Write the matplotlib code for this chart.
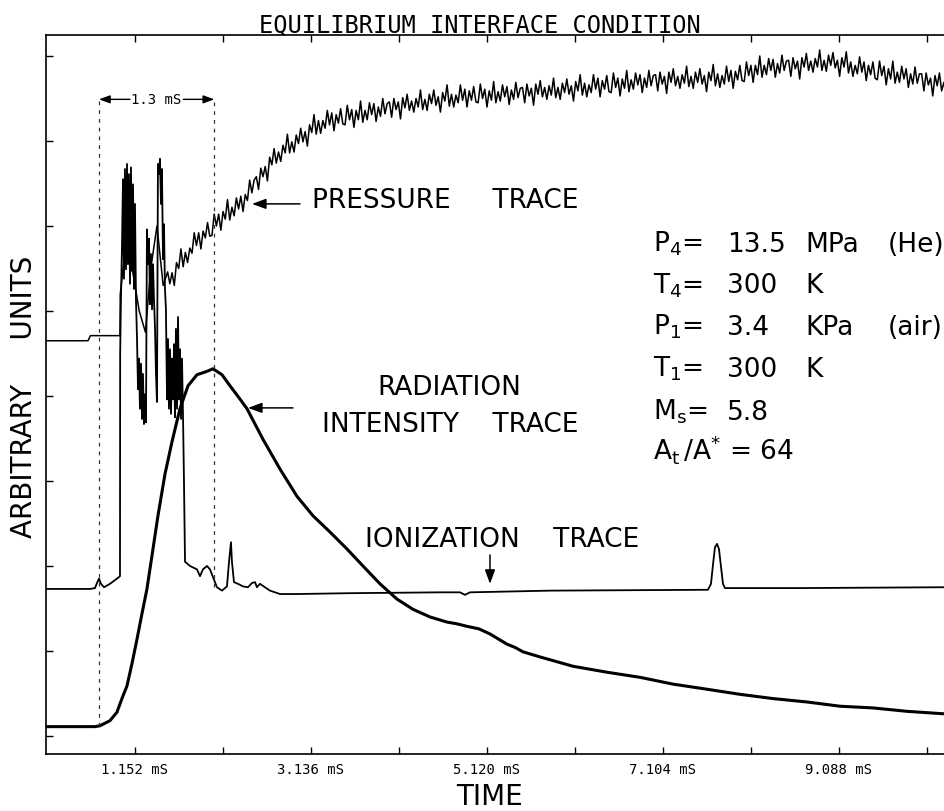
import numpy as np
import matplotlib.pyplot as plt

plt.rcParams['font.family'] = 'DejaVu Sans'
plt.rcParams['mathtext.fontset'] = 'dejavusans'

# time axis (mS)
tick_major = [1.152, 3.136, 5.120, 7.104, 9.088]
tick_minor = [2.144, 4.128, 6.112, 8.096, 10.080]
tick_labels = ["1.152 mS", "3.136 mS", "5.120 mS", "7.104 mS", "9.088 mS"]
y_ticks = [0, 10, 20, 30, 40, 50, 60, 70, 80]

# test time window marked on the record
window_start = 0.746
window_len = 1.3

# radiation intensity trace
rad_t = [0.15, 0.45, 0.70, 0.757, 0.870, 0.949, 1.005, 1.062, 1.118, 1.175,
         1.231, 1.287, 1.355, 1.411, 1.490, 1.569, 1.659, 1.750, 1.851, 1.964,
         2.031, 2.133, 2.223, 2.324, 2.415, 2.505, 2.595, 2.787, 2.978, 3.159,
         3.350, 3.542, 3.722, 3.914, 4.106, 4.286, 4.478, 4.669, 4.780, 4.895,
         5.030, 5.154, 5.250, 5.346, 5.440, 5.526, 5.718, 6.090, 6.473, 6.845,
         7.217, 7.600, 7.972, 8.344, 8.728, 9.100, 9.472, 9.855, 10.283, 10.60]
rad_y = [1.1, 1.1, 1.1, 1.2, 1.8, 2.8, 4.4, 5.9, 8.5, 11.4,
         14.4, 17.3, 22.0, 25.9, 30.8, 34.6, 38.5, 41.2, 42.5, 42.9,
         43.2, 42.5, 41.2, 39.8, 38.5, 36.7, 34.9, 31.4, 28.2, 25.9,
         24.0, 22.0, 20.0, 17.9, 16.1, 14.9, 14.0, 13.4, 13.2, 12.9,
         12.6, 12.0, 11.4, 10.8, 10.4, 9.9, 9.3, 8.2, 7.5, 6.9,
         6.1, 5.5, 4.9, 4.4, 4.0, 3.5, 3.3, 2.9, 2.6, 2.4]

# ionization probe trace
ion_t = [0.15, 0.645, 0.701, 0.724, 0.746, 0.769, 0.803, 0.870, 0.960, 0.983, 0.985,
         0.994, 1.005, 1.017, 1.028, 1.039, 1.051, 1.062, 1.073, 1.084, 1.096,
         1.107, 1.118, 1.130, 1.141, 1.152, 1.163, 1.175, 1.186, 1.197, 1.208,
         1.220, 1.231, 1.242, 1.253, 1.265, 1.276, 1.287, 1.298, 1.310, 1.321,
         1.332, 1.344, 1.355, 1.366, 1.378, 1.389, 1.400, 1.411, 1.423, 1.434,
         1.445, 1.456, 1.468, 1.479, 1.490, 1.501, 1.513, 1.524, 1.535, 1.547,
         1.558, 1.569, 1.580, 1.592, 1.603, 1.614, 1.626, 1.637, 1.648, 1.659,
         1.671, 1.682, 1.693, 1.704, 1.716,
         1.750, 1.772, 1.851, 1.885, 1.918, 1.964, 1.998, 2.031, 2.076, 2.133,
         2.189, 2.212, 2.234, 2.245, 2.268, 2.313, 2.370, 2.426, 2.471, 2.505,
         2.527, 2.561, 2.617, 2.674, 2.787, 2.978, 3.576, 4.590, 4.816, 4.872,
         4.929, 5.830, 7.611, 7.645, 7.668, 7.690, 7.713, 7.735, 7.758, 7.780,
         7.803, 8.649, 10.283, 10.60]
ion_y = [17.3, 17.3, 17.4, 18.0, 18.5, 17.9, 17.5, 17.9, 18.6, 18.8, 45.0,
         51.4, 57.3, 65.5, 53.8, 66.7, 54.9, 67.3, 55.5, 66.1, 53.2,
         66.9, 54.7, 64.9, 52.6, 62.6, 51.4, 46.7, 40.8, 44.4, 38.5,
         43.8, 37.3, 42.6, 36.7, 40.2, 36.9, 59.6, 55.5, 58.5, 50.8,
         56.7, 50.2, 55.5, 51.4, 47.9, 42.6, 39.3, 67.3, 66.1, 67.9,
         62.6, 66.7, 56.1, 60.2, 52.6, 50.2, 39.6, 46.7, 38.5, 45.5,
         37.9, 44.4, 39.6, 46.1, 37.5, 47.9, 38.5, 49.3, 39.6, 45.5,
         37.3, 44.4, 37.9, 30.2, 20.5,
         20.2, 20.0, 19.6, 18.8, 19.6, 20.0, 19.6, 18.7, 17.5, 17.1,
         17.6, 20.5, 22.8, 20.5, 18.1, 17.9, 17.6, 17.5, 18.0, 18.1,
         17.5, 17.9, 17.5, 17.1, 16.7, 16.7, 16.8, 16.9, 16.9, 16.6,
         16.9, 17.1, 17.2, 17.9, 20.2, 22.2, 22.6, 22.0, 19.9, 17.9,
         17.4, 17.4, 17.5, 17.5]

# pressure trace: baseline and ringing before the rise
p_early_t = [0.15, 0.622, 0.650, 0.983, 0.986, 1.05, 1.12, 1.20, 1.27, 1.33, 1.40, 1.47]
p_early_y = [46.5, 46.5, 47.1, 47.1, 52.0, 58.0, 55.0, 50.0, 47.5, 55.0, 60.0, 53.0]

# pressure trace after the rise, digitized every 0.025 mS from 1.52 mS
P_T0 = 1.52
P_DT = 0.025
p_samples = [
    54.6, 53.2, 54.5, 53.0, 55.7, 55.0, 57.3, 55.2, 56.9, 55.7, 57.4, 56.8, 59.2, 57.7, 59.2, 57.3, 59.4, 58.6, 60.4, 58.8,
    58.9, 61.4, 60.0, 61.4, 59.5, 61.7, 60.8, 63.1, 60.7, 62.2, 61.2, 63.3, 62.0, 63.5, 61.7, 63.7, 63.0, 65.4, 63.9, 65.4,
    65.8, 64.3, 66.8, 65.8, 67.0, 65.3, 68.1, 67.2, 69.1, 67.4, 68.7, 67.6, 69.5, 68.6, 70.8, 68.6, 69.9, 68.7, 70.7, 69.7,
    71.5, 69.9, 71.1, 69.4, 71.9, 71.0, 73.1, 70.8, 72.4, 70.9, 72.4, 71.5, 73.6, 71.9, 73.3, 71.2, 73.1, 72.1, 73.8, 72.0,
    71.9, 74.2, 72.5, 73.7, 71.6, 73.6, 72.5, 74.7, 72.2, 73.6, 72.5, 74.5, 73.1, 74.4, 72.3, 74.0, 72.9, 75.0, 73.2, 74.4,
    74.6, 72.8, 75.0, 73.7, 74.6, 72.6, 75.1, 73.9, 75.5, 73.6, 74.7, 73.4, 75.0, 74.0, 76.0, 73.7, 74.9, 73.6, 75.5, 74.4,
    76.0, 74.2, 75.2, 73.4, 75.7, 74.7, 76.6, 74.1, 75.5, 74.0, 75.4, 74.5, 76.6, 74.8, 76.1, 74.0, 75.9, 74.8, 76.4, 74.6,
    74.5, 76.7, 75.0, 76.1, 74.0, 75.9, 74.8, 77.0, 74.5, 75.8, 74.7, 76.6, 75.2, 76.4, 74.3, 76.0, 74.9, 76.9, 75.1, 76.2,
    76.3, 74.5, 76.7, 75.3, 76.2, 74.2, 76.7, 75.5, 77.1, 75.2, 76.3, 74.9, 76.5, 75.4, 77.4, 75.1, 76.3, 74.9, 76.8, 75.7,
    77.3, 75.5, 76.5, 74.7, 77.0, 75.9, 77.8, 75.4, 76.8, 75.2, 76.6, 75.7, 77.8, 76.1, 77.4, 75.2, 77.1, 76.1, 77.7, 75.8,
    75.7, 78.0, 76.3, 77.4, 75.3, 77.3, 76.2, 78.3, 75.8, 77.2, 76.1, 78.0, 76.6, 77.8, 75.7, 77.4, 76.3, 78.3, 76.5, 77.7,
    77.8, 75.9, 78.1, 76.7, 77.6, 75.6, 78.1, 76.9, 78.5, 76.5, 77.6, 76.2, 77.8, 76.8, 78.8, 76.4, 77.6, 76.2, 78.1, 76.9,
    78.5, 76.7, 77.7, 75.8, 78.1, 77.1, 79.0, 76.5, 77.9, 76.3, 77.7, 76.7, 78.8, 77.0, 78.3, 76.2, 78.2, 77.2, 78.9, 77.1,
    77.0, 79.3, 77.7, 78.9, 76.9, 78.9, 77.8, 80.0, 77.5, 78.9, 77.8, 79.7, 78.3, 79.6, 77.5, 79.1, 78.0, 80.1, 78.3, 79.4,
    79.5, 77.6, 79.8, 78.5, 79.4, 77.3, 79.8, 78.7, 80.3, 78.3, 79.4, 78.1, 79.7, 78.7, 80.7, 78.3, 79.5, 78.2, 80.1, 78.9,
    80.4, 78.6, 79.5, 77.6, 79.8, 78.7, 80.5, 78.0, 79.3, 77.6, 78.9, 77.9, 79.9, 78.1, 79.3, 77.1, 78.9, 77.8, 79.3, 77.4,
    77.2, 79.4, 77.7, 78.8, 76.6, 78.5, 77.3, 79.4, 76.8, 78.1, 76.9, 78.8, 77.3, 78.5, 76.3, 77.9, 76.7, 78.7, 76.8, 77.9,
    77.9, 75.9, 78.0, 76.6, 77.4, 75.3, 77.7, 76.5, 78.0, 75.9, 76.9, 75.5, 77.0, 75.9, 77.8, 75.4, 76.5, 75.1, 76.9, 75.7,
]

# run conditions
param_names = [r'$\mathregular{P_4}$=', r'$\mathregular{T_4}$=', r'$\mathregular{P_1}$=',
               r'$\mathregular{T_1}$=', r'$\mathregular{M_s}$=', r'$\mathregular{A_t\,/A^{*}}$ = 64']
param_values = ['13.5', '300', '3.4', '300', '5.8', '']
param_units = ['MPa', 'K', 'KPa', 'K', '', '']
param_gas = ['(He)', '', '(air)', '', '', '']


p_t = np.concatenate([p_early_t, P_T0 + P_DT * np.arange(len(p_samples))])
p_y = np.concatenate([p_early_y, p_samples])

fig = plt.figure(figsize=(9.45, 8.12), dpi=100)
ax = fig.add_axes([46 / 945, 57 / 812, 969 / 945, 719 / 812])

ax.plot(p_t, p_y, color='k', lw=1.1)
ax.plot(ion_t, ion_y, color='k', lw=1.3)
ax.plot(rad_t, rad_y, color='k', lw=2.2, solid_capstyle='round', solid_joinstyle='round')

# dashed markers for the 1.3 mS window
w0 = window_start
w1 = window_start + window_len
ax.vlines(w0, 1.2, 74.9, colors='0.2', linestyles=(0, (3, 4)), lw=0.9)
ax.vlines(w1, 17.5, 74.9, colors='0.2', linestyles=(0, (3, 4)), lw=0.9)
small_arrow = dict(arrowstyle='-|>,head_length=0.6,head_width=0.22', color='k',
                   lw=1.0, mutation_scale=11, shrinkA=0, shrinkB=0)
ax.annotate('', xy=(w0, 74.9), xytext=(w0 + 0.35, 74.9), arrowprops=small_arrow)
ax.annotate('', xy=(w1, 74.9), xytext=(w1 - 0.35, 74.9), arrowprops=small_arrow)
ax.text((w0 + w1) / 2, 74.9, '%.1f mS' % window_len, ha='center', va='center',
        family='DejaVu Sans Mono', fontsize=10)

# trace labels with pointer arrows
arrow = dict(arrowstyle='-|>,head_length=0.6,head_width=0.22', color='k',
             lw=1.1, mutation_scale=14, shrinkA=0, shrinkB=0)
ax.text(3.147, 62.2, 'PRESSURE     TRACE', fontsize=19, va='baseline')
ax.annotate('', xy=(2.471, 62.6), xytext=(3.012, 62.6), arrowprops=arrow)
ax.text(3.880, 40.2, 'RADIATION', fontsize=19, va='baseline')
ax.text(3.260, 35.9, 'INTENSITY    TRACE', fontsize=19, va='baseline')
ax.annotate('', xy=(2.426, 38.6), xytext=(2.933, 38.6), arrowprops=arrow)
ax.text(3.745, 22.4, 'IONIZATION    TRACE', fontsize=19, va='baseline')
ax.annotate('', xy=(5.154, 17.9), xytext=(5.154, 21.3), arrowprops=arrow)

# parameter table
row_y = [57.1, 52.2, 47.3, 42.4, 37.3, 32.6]
for i in range(len(param_names)):
    ax.text(6.991, row_y[i], param_names[i], fontsize=19, va='baseline')
    ax.text(7.826, row_y[i], param_values[i], fontsize=19, va='baseline')
    ax.text(8.705, row_y[i], param_units[i], fontsize=19, va='baseline')
    ax.text(9.641, row_y[i], param_gas[i], fontsize=19, va='baseline')

ax.set_xlim(0.149, 11.072)
ax.set_ylim(-2.12, 82.47)
ax.set_xticks(tick_major)
ax.set_xticklabels(tick_labels, family='DejaVu Sans Mono', fontsize=10)
ax.set_xticks(tick_minor, minor=True)
ax.set_yticks(y_ticks)
ax.tick_params(which='both', direction='in', top=True, length=5, width=1.0, pad=6)
ax.tick_params(axis='y', labelleft=False)
ax.spines['right'].set_visible(False)
for s in ['left', 'top', 'bottom']:
    ax.spines[s].set_linewidth(1.2)

fig.text(480 / 945, 1 - 32 / 812, 'EQUILIBRIUM INTERFACE CONDITION', ha='center',
         va='baseline', family='DejaVu Sans Mono', fontsize=17)
fig.text(490 / 945, 1 - 805 / 812, 'TIME', ha='center', va='baseline', fontsize=20)
fig.text(24 / 945, 1 - 397 / 812, 'ARBITRARY     UNITS', rotation=90, ha='center',
         va='center', fontsize=20)

fig.savefig('out.png', dpi=100)
